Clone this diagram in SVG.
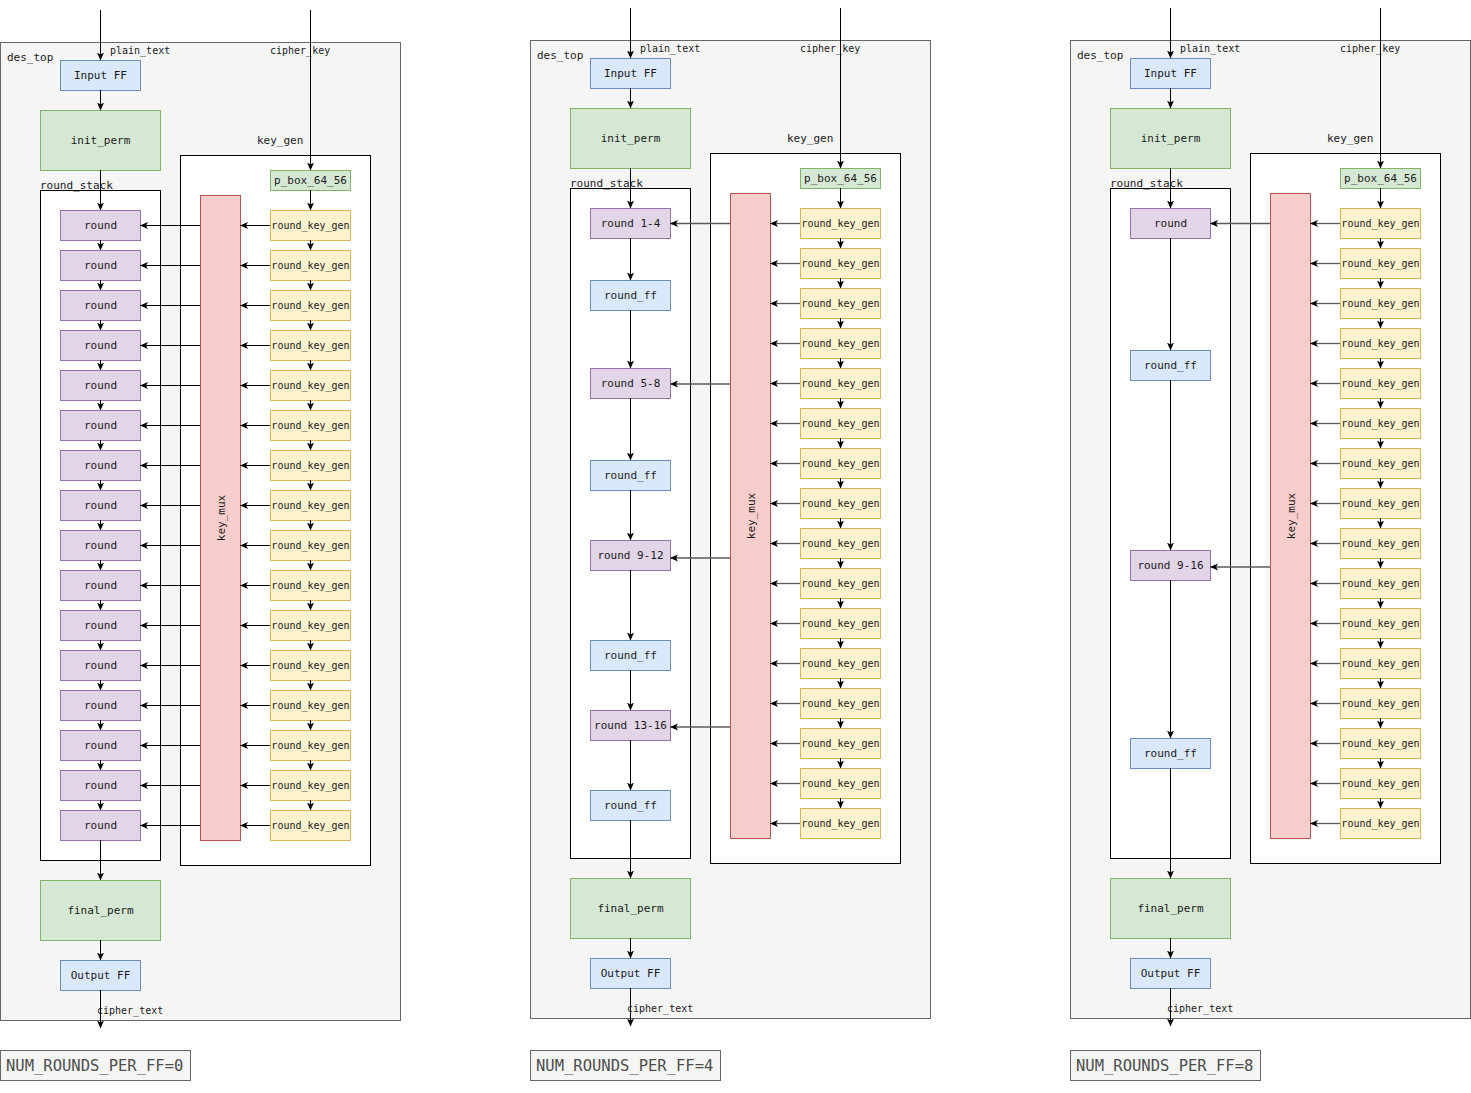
<svg xmlns="http://www.w3.org/2000/svg" width="1471" height="1093" viewBox="0 0 1471 1093">
<style>
text{font-family:"DejaVu Sans Mono","Liberation Mono",monospace;font-size:11px;fill:#1a1a1a}
.c{text-anchor:middle;dominant-baseline:central}
.rk,.s{font-size:10px}
.cont{fill:#f5f5f5;stroke:#666;stroke-width:1}
.grp{fill:#fff;stroke:#000;stroke-width:1}
.blue{fill:#dae8fc;stroke:#6c8ebf}
.green{fill:#d5e8d4;stroke:#82b366}
.purple{fill:#e1d5e7;stroke:#9673a6}
.yellow{fill:#fff2cc;stroke:#d6b656}
.red{fill:#f8cecc;stroke:#b85450}
.num{fill:#f5f5f5;stroke:#666}
.numt{font-size:15.5px;fill:#4d4d4d}
.e{stroke:#000;stroke-width:1;fill:none;marker-end:url(#ah)}
.g{stroke:#5a5a5a;stroke-width:1.3;fill:none;marker-end:url(#ahg)}
</style>
<defs>
<marker id="ah" viewBox="0 0 8 8" refX="7.5" refY="4" markerWidth="8" markerHeight="8" markerUnits="userSpaceOnUse" orient="auto"><path d="M0,0.5 L8,4 L0,7.5 L2,4 Z" fill="#000"/></marker>
<marker id="ahg" viewBox="0 0 8 8" refX="7.5" refY="4" markerWidth="8" markerHeight="8" markerUnits="userSpaceOnUse" orient="auto"><path d="M0,0.5 L8,4 L0,7.5 L2,4 Z" fill="#000"/></marker>
</defs>

<!-- ================= DIAGRAM 1 ================= -->
<g id="diagram1">
<g id="d1_des_top"><rect class="cont" x="0.5" y="42.5" width="400" height="978"/><text x="7" y="61">des_top</text></g>
<g id="d1_labels"><text class="s" x="110" y="54">plain_text</text><text class="s" x="270" y="54">cipher_key</text><text class="s" x="97" y="1014">cipher_text</text></g>
<g id="d1_input_ff"><rect class="blue" x="60.5" y="60.5" width="80" height="30"/><text class="c" x="100.5" y="75.5">Input FF</text></g>
<g id="d1_init_perm"><rect class="green" x="40.5" y="110.5" width="120" height="60"/><text class="c" x="100.5" y="140.5">init_perm</text></g>
<g id="d1_key_gen"><rect class="grp" x="180.5" y="155.5" width="190" height="710"/><text x="257" y="144">key_gen</text></g>
<g id="d1_round_stack"><rect class="grp" x="40.5" y="190.5" width="120" height="670"/><text x="40" y="189">round_stack</text></g>
<g id="d1_p_box"><rect class="green" x="270.5" y="170.5" width="80" height="20"/><text class="c" x="310.5" y="180.5">p_box_64_56</text></g>
<g id="d1_key_mux"><rect class="red" x="200.5" y="195.5" width="40" height="645"/><text class="c" transform="translate(221,518) rotate(-90)">key_mux</text></g>
<g id="d1_round_1"><rect class="purple" x="60.5" y="210.5" width="80" height="30"/><text class="c" x="100.5" y="225.5">round</text></g>
<g id="d1_round_2"><rect class="purple" x="60.5" y="250.5" width="80" height="30"/><text class="c" x="100.5" y="265.5">round</text></g>
<g id="d1_round_3"><rect class="purple" x="60.5" y="290.5" width="80" height="30"/><text class="c" x="100.5" y="305.5">round</text></g>
<g id="d1_round_4"><rect class="purple" x="60.5" y="330.5" width="80" height="30"/><text class="c" x="100.5" y="345.5">round</text></g>
<g id="d1_round_5"><rect class="purple" x="60.5" y="370.5" width="80" height="30"/><text class="c" x="100.5" y="385.5">round</text></g>
<g id="d1_round_6"><rect class="purple" x="60.5" y="410.5" width="80" height="30"/><text class="c" x="100.5" y="425.5">round</text></g>
<g id="d1_round_7"><rect class="purple" x="60.5" y="450.5" width="80" height="30"/><text class="c" x="100.5" y="465.5">round</text></g>
<g id="d1_round_8"><rect class="purple" x="60.5" y="490.5" width="80" height="30"/><text class="c" x="100.5" y="505.5">round</text></g>
<g id="d1_round_9"><rect class="purple" x="60.5" y="530.5" width="80" height="30"/><text class="c" x="100.5" y="545.5">round</text></g>
<g id="d1_round_10"><rect class="purple" x="60.5" y="570.5" width="80" height="30"/><text class="c" x="100.5" y="585.5">round</text></g>
<g id="d1_round_11"><rect class="purple" x="60.5" y="610.5" width="80" height="30"/><text class="c" x="100.5" y="625.5">round</text></g>
<g id="d1_round_12"><rect class="purple" x="60.5" y="650.5" width="80" height="30"/><text class="c" x="100.5" y="665.5">round</text></g>
<g id="d1_round_13"><rect class="purple" x="60.5" y="690.5" width="80" height="30"/><text class="c" x="100.5" y="705.5">round</text></g>
<g id="d1_round_14"><rect class="purple" x="60.5" y="730.5" width="80" height="30"/><text class="c" x="100.5" y="745.5">round</text></g>
<g id="d1_round_15"><rect class="purple" x="60.5" y="770.5" width="80" height="30"/><text class="c" x="100.5" y="785.5">round</text></g>
<g id="d1_round_16"><rect class="purple" x="60.5" y="810.5" width="80" height="30"/><text class="c" x="100.5" y="825.5">round</text></g>
<g id="d1_rkg_1"><rect class="yellow" x="270.5" y="210.5" width="80" height="30"/><text class="c rk" x="310.5" y="225.5">round_key_gen</text></g>
<g id="d1_rkg_2"><rect class="yellow" x="270.5" y="250.5" width="80" height="30"/><text class="c rk" x="310.5" y="265.5">round_key_gen</text></g>
<g id="d1_rkg_3"><rect class="yellow" x="270.5" y="290.5" width="80" height="30"/><text class="c rk" x="310.5" y="305.5">round_key_gen</text></g>
<g id="d1_rkg_4"><rect class="yellow" x="270.5" y="330.5" width="80" height="30"/><text class="c rk" x="310.5" y="345.5">round_key_gen</text></g>
<g id="d1_rkg_5"><rect class="yellow" x="270.5" y="370.5" width="80" height="30"/><text class="c rk" x="310.5" y="385.5">round_key_gen</text></g>
<g id="d1_rkg_6"><rect class="yellow" x="270.5" y="410.5" width="80" height="30"/><text class="c rk" x="310.5" y="425.5">round_key_gen</text></g>
<g id="d1_rkg_7"><rect class="yellow" x="270.5" y="450.5" width="80" height="30"/><text class="c rk" x="310.5" y="465.5">round_key_gen</text></g>
<g id="d1_rkg_8"><rect class="yellow" x="270.5" y="490.5" width="80" height="30"/><text class="c rk" x="310.5" y="505.5">round_key_gen</text></g>
<g id="d1_rkg_9"><rect class="yellow" x="270.5" y="530.5" width="80" height="30"/><text class="c rk" x="310.5" y="545.5">round_key_gen</text></g>
<g id="d1_rkg_10"><rect class="yellow" x="270.5" y="570.5" width="80" height="30"/><text class="c rk" x="310.5" y="585.5">round_key_gen</text></g>
<g id="d1_rkg_11"><rect class="yellow" x="270.5" y="610.5" width="80" height="30"/><text class="c rk" x="310.5" y="625.5">round_key_gen</text></g>
<g id="d1_rkg_12"><rect class="yellow" x="270.5" y="650.5" width="80" height="30"/><text class="c rk" x="310.5" y="665.5">round_key_gen</text></g>
<g id="d1_rkg_13"><rect class="yellow" x="270.5" y="690.5" width="80" height="30"/><text class="c rk" x="310.5" y="705.5">round_key_gen</text></g>
<g id="d1_rkg_14"><rect class="yellow" x="270.5" y="730.5" width="80" height="30"/><text class="c rk" x="310.5" y="745.5">round_key_gen</text></g>
<g id="d1_rkg_15"><rect class="yellow" x="270.5" y="770.5" width="80" height="30"/><text class="c rk" x="310.5" y="785.5">round_key_gen</text></g>
<g id="d1_rkg_16"><rect class="yellow" x="270.5" y="810.5" width="80" height="30"/><text class="c rk" x="310.5" y="825.5">round_key_gen</text></g>
<g id="d1_final_perm"><rect class="green" x="40.5" y="880.5" width="120" height="60"/><text class="c" x="100.5" y="910.5">final_perm</text></g>
<g id="d1_output_ff"><rect class="blue" x="60.5" y="960.5" width="80" height="30"/><text class="c" x="100.5" y="975.5">Output FF</text></g>
<g id="d1_num"><rect class="num" x="0.5" y="1050.5" width="190" height="30"/><text class="numt" x="6" y="1071">NUM_ROUNDS_PER_FF=0</text></g>
<g id="d1_connectors">
<path class="e" d="M100.5,10V60"/><path class="e" d="M100.5,90V110"/><path class="e" d="M100.5,170V210"/>
<path class="e" d="M100.5,240V250"/><path class="e" d="M100.5,280V290"/><path class="e" d="M100.5,320V330"/><path class="e" d="M100.5,360V370"/><path class="e" d="M100.5,400V410"/><path class="e" d="M100.5,440V450"/><path class="e" d="M100.5,480V490"/><path class="e" d="M100.5,520V530"/><path class="e" d="M100.5,560V570"/><path class="e" d="M100.5,600V610"/><path class="e" d="M100.5,640V650"/><path class="e" d="M100.5,680V690"/><path class="e" d="M100.5,720V730"/><path class="e" d="M100.5,760V770"/><path class="e" d="M100.5,800V810"/>
<path class="e" d="M100.5,840V880"/><path class="e" d="M100.5,940V960"/><path class="e" d="M100.5,990V1028"/>
<path class="e" d="M310.5,10V170"/><path class="e" d="M310.5,190V210"/>
<path class="e" d="M310.5,240V250"/><path class="e" d="M310.5,280V290"/><path class="e" d="M310.5,320V330"/><path class="e" d="M310.5,360V370"/><path class="e" d="M310.5,400V410"/><path class="e" d="M310.5,440V450"/><path class="e" d="M310.5,480V490"/><path class="e" d="M310.5,520V530"/><path class="e" d="M310.5,560V570"/><path class="e" d="M310.5,600V610"/><path class="e" d="M310.5,640V650"/><path class="e" d="M310.5,680V690"/><path class="e" d="M310.5,720V730"/><path class="e" d="M310.5,760V770"/><path class="e" d="M310.5,800V810"/>
<path class="e" d="M270,225.5H240.5"/><path class="e" d="M270,265.5H240.5"/><path class="e" d="M270,305.5H240.5"/><path class="e" d="M270,345.5H240.5"/><path class="e" d="M270,385.5H240.5"/><path class="e" d="M270,425.5H240.5"/><path class="e" d="M270,465.5H240.5"/><path class="e" d="M270,505.5H240.5"/><path class="e" d="M270,545.5H240.5"/><path class="e" d="M270,585.5H240.5"/><path class="e" d="M270,625.5H240.5"/><path class="e" d="M270,665.5H240.5"/><path class="e" d="M270,705.5H240.5"/><path class="e" d="M270,745.5H240.5"/><path class="e" d="M270,785.5H240.5"/><path class="e" d="M270,825.5H240.5"/>
<path class="e" d="M200,225.5H140.5"/><path class="e" d="M200,265.5H140.5"/><path class="e" d="M200,305.5H140.5"/><path class="e" d="M200,345.5H140.5"/><path class="e" d="M200,385.5H140.5"/><path class="e" d="M200,425.5H140.5"/><path class="e" d="M200,465.5H140.5"/><path class="e" d="M200,505.5H140.5"/><path class="e" d="M200,545.5H140.5"/><path class="e" d="M200,585.5H140.5"/><path class="e" d="M200,625.5H140.5"/><path class="e" d="M200,665.5H140.5"/><path class="e" d="M200,705.5H140.5"/><path class="e" d="M200,745.5H140.5"/><path class="e" d="M200,785.5H140.5"/><path class="e" d="M200,825.5H140.5"/>
</g>
</g>

<!-- ================= DIAGRAM 2 ================= -->
<g id="diagram2" transform="translate(530,-2)">
<g id="d2_des_top"><rect class="cont" x="0.5" y="42.5" width="400" height="978"/><text x="7" y="61">des_top</text></g>
<g id="d2_labels"><text class="s" x="110" y="54">plain_text</text><text class="s" x="270" y="54">cipher_key</text><text class="s" x="97" y="1014">cipher_text</text></g>
<g id="d2_input_ff"><rect class="blue" x="60.5" y="60.5" width="80" height="30"/><text class="c" x="100.5" y="75.5">Input FF</text></g>
<g id="d2_init_perm"><rect class="green" x="40.5" y="110.5" width="120" height="60"/><text class="c" x="100.5" y="140.5">init_perm</text></g>
<g id="d2_key_gen"><rect class="grp" x="180.5" y="155.5" width="190" height="710"/><text x="257" y="144">key_gen</text></g>
<g id="d2_round_stack"><rect class="grp" x="40.5" y="190.5" width="120" height="670"/><text x="40" y="189">round_stack</text></g>
<g id="d2_p_box"><rect class="green" x="270.5" y="170.5" width="80" height="20"/><text class="c" x="310.5" y="180.5">p_box_64_56</text></g>
<g id="d2_key_mux"><rect class="red" x="200.5" y="195.5" width="40" height="645"/><text class="c" transform="translate(221,518) rotate(-90)">key_mux</text></g>
<g id="d2_round_1_4"><rect class="purple" x="60.5" y="210.5" width="80" height="30"/><text class="c" x="100.5" y="225.5">round 1-4</text></g>
<g id="d2_round_ff_1"><rect class="blue" x="60.5" y="282.5" width="80" height="30"/><text class="c" x="100.5" y="297.5">round_ff</text></g>
<g id="d2_round_5_8"><rect class="purple" x="60.5" y="370.5" width="80" height="30"/><text class="c" x="100.5" y="385.5">round 5-8</text></g>
<g id="d2_round_ff_2"><rect class="blue" x="60.5" y="462.5" width="80" height="30"/><text class="c" x="100.5" y="477.5">round_ff</text></g>
<g id="d2_round_9_12"><rect class="purple" x="60.5" y="542.5" width="80" height="30"/><text class="c" x="100.5" y="557.5">round 9-12</text></g>
<g id="d2_round_ff_3"><rect class="blue" x="60.5" y="642.5" width="80" height="30"/><text class="c" x="100.5" y="657.5">round_ff</text></g>
<g id="d2_round_13_16"><rect class="purple" x="60.5" y="712.5" width="80" height="30"/><text class="c" x="100.5" y="727.5">round 13-16</text></g>
<g id="d2_round_ff_4"><rect class="blue" x="60.5" y="792.5" width="80" height="30"/><text class="c" x="100.5" y="807.5">round_ff</text></g>
<g id="d2_rkg_1"><rect class="yellow" x="270.5" y="210.5" width="80" height="30"/><text class="c rk" x="310.5" y="225.5">round_key_gen</text></g>
<g id="d2_rkg_2"><rect class="yellow" x="270.5" y="250.5" width="80" height="30"/><text class="c rk" x="310.5" y="265.5">round_key_gen</text></g>
<g id="d2_rkg_3"><rect class="yellow" x="270.5" y="290.5" width="80" height="30"/><text class="c rk" x="310.5" y="305.5">round_key_gen</text></g>
<g id="d2_rkg_4"><rect class="yellow" x="270.5" y="330.5" width="80" height="30"/><text class="c rk" x="310.5" y="345.5">round_key_gen</text></g>
<g id="d2_rkg_5"><rect class="yellow" x="270.5" y="370.5" width="80" height="30"/><text class="c rk" x="310.5" y="385.5">round_key_gen</text></g>
<g id="d2_rkg_6"><rect class="yellow" x="270.5" y="410.5" width="80" height="30"/><text class="c rk" x="310.5" y="425.5">round_key_gen</text></g>
<g id="d2_rkg_7"><rect class="yellow" x="270.5" y="450.5" width="80" height="30"/><text class="c rk" x="310.5" y="465.5">round_key_gen</text></g>
<g id="d2_rkg_8"><rect class="yellow" x="270.5" y="490.5" width="80" height="30"/><text class="c rk" x="310.5" y="505.5">round_key_gen</text></g>
<g id="d2_rkg_9"><rect class="yellow" x="270.5" y="530.5" width="80" height="30"/><text class="c rk" x="310.5" y="545.5">round_key_gen</text></g>
<g id="d2_rkg_10"><rect class="yellow" x="270.5" y="570.5" width="80" height="30"/><text class="c rk" x="310.5" y="585.5">round_key_gen</text></g>
<g id="d2_rkg_11"><rect class="yellow" x="270.5" y="610.5" width="80" height="30"/><text class="c rk" x="310.5" y="625.5">round_key_gen</text></g>
<g id="d2_rkg_12"><rect class="yellow" x="270.5" y="650.5" width="80" height="30"/><text class="c rk" x="310.5" y="665.5">round_key_gen</text></g>
<g id="d2_rkg_13"><rect class="yellow" x="270.5" y="690.5" width="80" height="30"/><text class="c rk" x="310.5" y="705.5">round_key_gen</text></g>
<g id="d2_rkg_14"><rect class="yellow" x="270.5" y="730.5" width="80" height="30"/><text class="c rk" x="310.5" y="745.5">round_key_gen</text></g>
<g id="d2_rkg_15"><rect class="yellow" x="270.5" y="770.5" width="80" height="30"/><text class="c rk" x="310.5" y="785.5">round_key_gen</text></g>
<g id="d2_rkg_16"><rect class="yellow" x="270.5" y="810.5" width="80" height="30"/><text class="c rk" x="310.5" y="825.5">round_key_gen</text></g>
<g id="d2_final_perm"><rect class="green" x="40.5" y="880.5" width="120" height="60"/><text class="c" x="100.5" y="910.5">final_perm</text></g>
<g id="d2_output_ff"><rect class="blue" x="60.5" y="960.5" width="80" height="30"/><text class="c" x="100.5" y="975.5">Output FF</text></g>
<g id="d2_num"><rect class="num" x="0.5" y="1052.5" width="190" height="30"/><text class="numt" x="6" y="1073">NUM_ROUNDS_PER_FF=4</text></g>
<g id="d2_connectors">
<path class="e" d="M100.5,10V60"/><path class="e" d="M100.5,90V110"/><path class="e" d="M100.5,170V210"/>
<path class="e" d="M100.5,240V282"/><path class="e" d="M100.5,312V370"/><path class="e" d="M100.5,400V462"/><path class="e" d="M100.5,492V542"/><path class="e" d="M100.5,572V642"/><path class="e" d="M100.5,672V712"/><path class="e" d="M100.5,742V792"/>
<path class="e" d="M100.5,822V880"/><path class="e" d="M100.5,940V960"/><path class="e" d="M100.5,990V1028"/>
<path class="e" d="M310.5,10V170"/><path class="e" d="M310.5,190V210"/>
<path class="e" d="M310.5,240V250"/><path class="e" d="M310.5,280V290"/><path class="e" d="M310.5,320V330"/><path class="e" d="M310.5,360V370"/><path class="e" d="M310.5,400V410"/><path class="e" d="M310.5,440V450"/><path class="e" d="M310.5,480V490"/><path class="e" d="M310.5,520V530"/><path class="e" d="M310.5,560V570"/><path class="e" d="M310.5,600V610"/><path class="e" d="M310.5,640V650"/><path class="e" d="M310.5,680V690"/><path class="e" d="M310.5,720V730"/><path class="e" d="M310.5,760V770"/><path class="e" d="M310.5,800V810"/>
<path class="g" d="M270,225.5H240.5"/><path class="g" d="M270,265.5H240.5"/><path class="g" d="M270,305.5H240.5"/><path class="g" d="M270,345.5H240.5"/><path class="g" d="M270,385.5H240.5"/><path class="g" d="M270,425.5H240.5"/><path class="g" d="M270,465.5H240.5"/><path class="g" d="M270,505.5H240.5"/><path class="g" d="M270,545.5H240.5"/><path class="g" d="M270,585.5H240.5"/><path class="g" d="M270,625.5H240.5"/><path class="g" d="M270,665.5H240.5"/><path class="g" d="M270,705.5H240.5"/><path class="g" d="M270,745.5H240.5"/><path class="g" d="M270,785.5H240.5"/><path class="g" d="M270,825.5H240.5"/>
<path class="g" d="M200,225.5H140.5"/><path class="g" d="M200,386H140.5"/><path class="g" d="M200,560H140.5"/><path class="g" d="M200,729H140.5"/>
</g>
</g>

<!-- ================= DIAGRAM 3 ================= -->
<g id="diagram3" transform="translate(1070,-2)">
<g id="d3_des_top"><rect class="cont" x="0.5" y="42.5" width="400" height="978"/><text x="7" y="61">des_top</text></g>
<g id="d3_labels"><text class="s" x="110" y="54">plain_text</text><text class="s" x="270" y="54">cipher_key</text><text class="s" x="97" y="1014">cipher_text</text></g>
<g id="d3_input_ff"><rect class="blue" x="60.5" y="60.5" width="80" height="30"/><text class="c" x="100.5" y="75.5">Input FF</text></g>
<g id="d3_init_perm"><rect class="green" x="40.5" y="110.5" width="120" height="60"/><text class="c" x="100.5" y="140.5">init_perm</text></g>
<g id="d3_key_gen"><rect class="grp" x="180.5" y="155.5" width="190" height="710"/><text x="257" y="144">key_gen</text></g>
<g id="d3_round_stack"><rect class="grp" x="40.5" y="190.5" width="120" height="670"/><text x="40" y="189">round_stack</text></g>
<g id="d3_p_box"><rect class="green" x="270.5" y="170.5" width="80" height="20"/><text class="c" x="310.5" y="180.5">p_box_64_56</text></g>
<g id="d3_key_mux"><rect class="red" x="200.5" y="195.5" width="40" height="645"/><text class="c" transform="translate(221,518) rotate(-90)">key_mux</text></g>
<g id="d3_round"><rect class="purple" x="60.5" y="210.5" width="80" height="30"/><text class="c" x="100.5" y="225.5">round</text></g>
<g id="d3_round_ff_1"><rect class="blue" x="60.5" y="352.5" width="80" height="30"/><text class="c" x="100.5" y="367.5">round_ff</text></g>
<g id="d3_round_9_16"><rect class="purple" x="60.5" y="552.5" width="80" height="30"/><text class="c" x="100.5" y="567.5">round 9-16</text></g>
<g id="d3_round_ff_2"><rect class="blue" x="60.5" y="740.5" width="80" height="30"/><text class="c" x="100.5" y="755.5">round_ff</text></g>
<g id="d3_rkg_1"><rect class="yellow" x="270.5" y="210.5" width="80" height="30"/><text class="c rk" x="310.5" y="225.5">round_key_gen</text></g>
<g id="d3_rkg_2"><rect class="yellow" x="270.5" y="250.5" width="80" height="30"/><text class="c rk" x="310.5" y="265.5">round_key_gen</text></g>
<g id="d3_rkg_3"><rect class="yellow" x="270.5" y="290.5" width="80" height="30"/><text class="c rk" x="310.5" y="305.5">round_key_gen</text></g>
<g id="d3_rkg_4"><rect class="yellow" x="270.5" y="330.5" width="80" height="30"/><text class="c rk" x="310.5" y="345.5">round_key_gen</text></g>
<g id="d3_rkg_5"><rect class="yellow" x="270.5" y="370.5" width="80" height="30"/><text class="c rk" x="310.5" y="385.5">round_key_gen</text></g>
<g id="d3_rkg_6"><rect class="yellow" x="270.5" y="410.5" width="80" height="30"/><text class="c rk" x="310.5" y="425.5">round_key_gen</text></g>
<g id="d3_rkg_7"><rect class="yellow" x="270.5" y="450.5" width="80" height="30"/><text class="c rk" x="310.5" y="465.5">round_key_gen</text></g>
<g id="d3_rkg_8"><rect class="yellow" x="270.5" y="490.5" width="80" height="30"/><text class="c rk" x="310.5" y="505.5">round_key_gen</text></g>
<g id="d3_rkg_9"><rect class="yellow" x="270.5" y="530.5" width="80" height="30"/><text class="c rk" x="310.5" y="545.5">round_key_gen</text></g>
<g id="d3_rkg_10"><rect class="yellow" x="270.5" y="570.5" width="80" height="30"/><text class="c rk" x="310.5" y="585.5">round_key_gen</text></g>
<g id="d3_rkg_11"><rect class="yellow" x="270.5" y="610.5" width="80" height="30"/><text class="c rk" x="310.5" y="625.5">round_key_gen</text></g>
<g id="d3_rkg_12"><rect class="yellow" x="270.5" y="650.5" width="80" height="30"/><text class="c rk" x="310.5" y="665.5">round_key_gen</text></g>
<g id="d3_rkg_13"><rect class="yellow" x="270.5" y="690.5" width="80" height="30"/><text class="c rk" x="310.5" y="705.5">round_key_gen</text></g>
<g id="d3_rkg_14"><rect class="yellow" x="270.5" y="730.5" width="80" height="30"/><text class="c rk" x="310.5" y="745.5">round_key_gen</text></g>
<g id="d3_rkg_15"><rect class="yellow" x="270.5" y="770.5" width="80" height="30"/><text class="c rk" x="310.5" y="785.5">round_key_gen</text></g>
<g id="d3_rkg_16"><rect class="yellow" x="270.5" y="810.5" width="80" height="30"/><text class="c rk" x="310.5" y="825.5">round_key_gen</text></g>
<g id="d3_final_perm"><rect class="green" x="40.5" y="880.5" width="120" height="60"/><text class="c" x="100.5" y="910.5">final_perm</text></g>
<g id="d3_output_ff"><rect class="blue" x="60.5" y="960.5" width="80" height="30"/><text class="c" x="100.5" y="975.5">Output FF</text></g>
<g id="d3_num"><rect class="num" x="0.5" y="1052.5" width="190" height="30"/><text class="numt" x="6" y="1073">NUM_ROUNDS_PER_FF=8</text></g>
<g id="d3_connectors">
<path class="e" d="M100.5,10V60"/><path class="e" d="M100.5,90V110"/><path class="e" d="M100.5,170V210"/>
<path class="e" d="M100.5,240V352"/><path class="e" d="M100.5,382V552"/><path class="e" d="M100.5,582V740"/>
<path class="e" d="M100.5,770V880"/><path class="e" d="M100.5,940V960"/><path class="e" d="M100.5,990V1028"/>
<path class="e" d="M310.5,10V170"/><path class="e" d="M310.5,190V210"/>
<path class="e" d="M310.5,240V250"/><path class="e" d="M310.5,280V290"/><path class="e" d="M310.5,320V330"/><path class="e" d="M310.5,360V370"/><path class="e" d="M310.5,400V410"/><path class="e" d="M310.5,440V450"/><path class="e" d="M310.5,480V490"/><path class="e" d="M310.5,520V530"/><path class="e" d="M310.5,560V570"/><path class="e" d="M310.5,600V610"/><path class="e" d="M310.5,640V650"/><path class="e" d="M310.5,680V690"/><path class="e" d="M310.5,720V730"/><path class="e" d="M310.5,760V770"/><path class="e" d="M310.5,800V810"/>
<path class="g" d="M270,225.5H240.5"/><path class="g" d="M270,265.5H240.5"/><path class="g" d="M270,305.5H240.5"/><path class="g" d="M270,345.5H240.5"/><path class="g" d="M270,385.5H240.5"/><path class="g" d="M270,425.5H240.5"/><path class="g" d="M270,465.5H240.5"/><path class="g" d="M270,505.5H240.5"/><path class="g" d="M270,545.5H240.5"/><path class="g" d="M270,585.5H240.5"/><path class="g" d="M270,625.5H240.5"/><path class="g" d="M270,665.5H240.5"/><path class="g" d="M270,705.5H240.5"/><path class="g" d="M270,745.5H240.5"/><path class="g" d="M270,785.5H240.5"/><path class="g" d="M270,825.5H240.5"/>
<path class="g" d="M200,225.5H140.5"/><path class="g" d="M200,569H140.5"/>
</g>
</g>
</svg>
